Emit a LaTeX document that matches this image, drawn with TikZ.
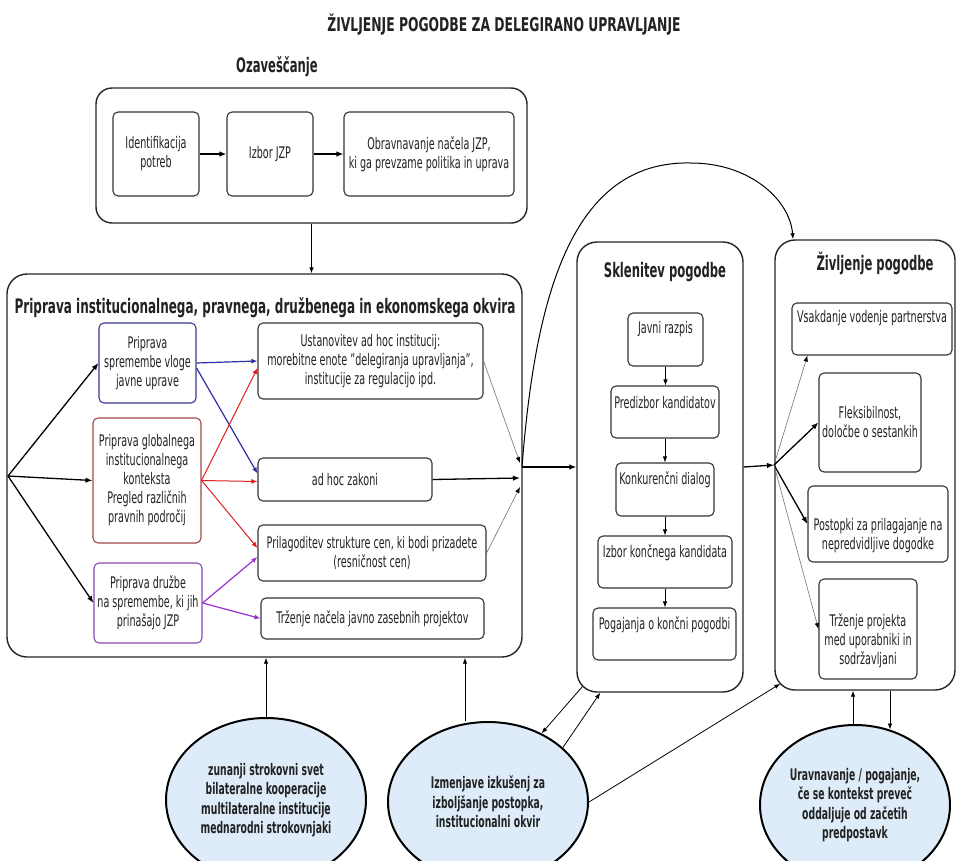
\documentclass[tikz,border=0pt]{standalone}
\usepackage{fontspec}
\setmainfont{DejaVu Sans}[FakeStretch=0.6]
\newfontfamily\hdfont{DejaVu Sans}[FakeStretch=0.58]
\newfontfamily\hdfontw{DejaVu Sans}[FakeStretch=0.6]
\newfontfamily\ttlfont{DejaVu Sans}[FakeStretch=0.65]
\usetikzlibrary{arrows.meta,shapes.geometric}
\definecolor{txtc}{HTML}{222222}
\definecolor{bluebx}{HTML}{3A3A90}
\definecolor{redbx}{HTML}{A04848}
\definecolor{purbx}{HTML}{8A48B0}
\definecolor{bluear}{HTML}{2E2EA8}
\definecolor{redar}{HTML}{E02020}
\definecolor{purar}{HTML}{9B30D0}
\definecolor{ellfill}{HTML}{DDECF8}
\tikzset{
  ttl/.style={font=\ttlfont\bfseries\fontsize{19}{22}\selectfont, text=txtc, inner sep=0},
  hd/.style={font=\hdfont\bfseries\fontsize{20}{24}\selectfont, text=txtc, inner sep=0},
  hdwide/.style={font=\hdfontw\bfseries\fontsize{20}{24}\selectfont, text=txtc, inner sep=0},
  bigbox/.style={draw=black!85, line width=1.4pt, rounded corners=16pt, inner sep=0},
  ibox/.style={draw=black!80, line width=1.1pt, rounded corners=5pt, inner sep=2pt,
    align=center, text=txtc, font=\fontsize{16}{19}\selectfont},
  txt/.style={align=center, text=txtc, font=\fontsize{16}{19}\selectfont, inner sep=0},
  ell/.style={ellipse, draw=black, line width=2pt, fill=ellfill, inner sep=0, align=center,
    text=txtc, font=\hdfont\bfseries\fontsize{16}{19.5}\selectfont},
  arrk/.style={draw=black, line width=1.3pt, -{Latex[length=7pt,width=5.5pt]}},
  arrt/.style={draw=black, line width=0.8pt, -{Latex[length=6pt,width=4.5pt]}},
  arrg/.style={draw=black!55, line width=0.6pt, -{Latex[length=6pt,width=4.5pt,fill=black,color=black]}},
  arrb/.style={draw=bluear, line width=1.2pt, -{Latex[length=6pt,width=5pt]}},
  arrr/.style={draw=redar, line width=1.0pt, -{Latex[length=6pt,width=5pt]}},
  arrp/.style={draw=purar, line width=1.2pt, -{Latex[length=6pt,width=5pt]}},
}
\begin{document}
\begin{tikzpicture}[x=1pt,y=-1pt]
\useasboundingbox (0,0) rectangle (959,860);
\fill[white] (0,0) rectangle (959,860);

% title
\node[ttl] (title) at (504,25) {ŽIVLJENJE POGODBE ZA DELEGIRANO UPRAVLJANJE};

% Ozaveščanje
\node[hd] (ozh) at (277,67) {Ozaveščanje};
\node[bigbox, minimum width=431, minimum height=135] (topbox) at (311.5,155.5) {};
\node[ibox, minimum width=86, minimum height=84] (ident) at (156,154) {Identifikacija\\potreb};
\node[ibox, minimum width=86, minimum height=84] (izbor) at (270,154) {Izbor JZP};
\node[ibox, minimum width=170, minimum height=84] (obrav) at (429,154) {Obravnavanje načela JZP,\\ki ga prevzame politika in uprava};
\draw[arrk] (ident) -- (izbor);
\draw[arrk] (izbor) -- (obrav);

% Priprava box
\node[bigbox, rounded corners=20pt, minimum width=515, minimum height=383] (prep) at (264.5,465.5) {};
\node[hdwide] (preph) at (265,308) {Priprava institucionalnega, pravnega, družbenega in ekonomskega okvira};
\draw[arrt] (topbox.south) -- (topbox.south |- prep.north);

\node[ibox, draw=bluebx, minimum width=97, minimum height=80] (blue) at (147.5,363) {Priprava\\spremembe vloge\\javne uprave};
\node[ibox, draw=redbx, minimum width=108, minimum height=125] (red) at (147,480.5) {Priprava globalnega\\institucionalnega\\konteksta\\Pregled različnih\\pravnih področij};
\node[ibox, draw=purbx, minimum width=108, minimum height=80] (pur) at (148,603) {Priprava družbe\\na spremembe, ki jih\\prinašajo JZP};

\node[ibox, minimum width=225, minimum height=76] (ustan) at (370.5,361) {Ustanovitev ad hoc institucij:\\morebitne enote "delegiranja upravljanja",\\institucije za regulacijo ipd.};
\node[ibox, minimum width=174, minimum height=43] (adhoc) at (345,479.5) {ad hoc zakoni};
\node[ibox, minimum width=228, minimum height=56] (prilag) at (372,553) {Prilagoditev strukture cen, ki bodi prizadete\\(resničnost cen)};
\node[ibox, minimum width=223, minimum height=41] (trzn) at (372.5,618.5) {Trženje načela javno zasebnih projektov};

\coordinate (fan) at (8,476);
\draw[arrk] (fan) -- (blue.west);
\draw[arrk] (fan) -- (red.west);
\draw[arrk] (fan) -- (pur.west);

\draw[arrb] (blue.east) -- (ustan.west);
\draw[arrb] ([yshift=-5pt]blue.east) -- ([yshift=6pt]adhoc.west);
\draw[arrr] (red.east) -- ([yshift=-7pt]ustan.west);
\draw[arrr] (red.east) -- ([yshift=-2pt]adhoc.west);
\draw[arrr] (red.east) -- ([yshift=5pt]prilag.west);
\draw[arrp] (pur.east) -- ([yshift=-4pt]prilag.west);
\draw[arrp] (pur.east) -- (trzn.west);

\coordinate (c1) at (520,463);
\coordinate (c2) at (520,478);
\coordinate (c3) at (520,487);
\coordinate (cv) at (522,467);
\draw[arrg] (ustan.east) -- (c1);
\draw[arrk] (adhoc.east) -- (c2);
\draw[arrg] (prilag.east) -- (c3);

% Sklenitev
\node[bigbox, rounded corners=20pt, minimum width=166, minimum height=450] (skl) at (660,467) {};
\node[hd] (sklh) at (665,272) {Sklenitev pogodbe};
\node[ibox, minimum width=75, minimum height=53] (jr) at (665.5,339.5) {};
\node[txt] (jrt) at ([yshift=-17pt]jr.north) {Javni razpis};
\node[ibox, minimum width=108, minimum height=52] (pk) at (665,412) {};
\node[txt] (pkt) at ([yshift=-17pt]pk.north) {Predizbor kandidatov};
\node[ibox, minimum width=98, minimum height=53] (kd) at (665,489.5) {};
\node[txt] (kdt) at ([yshift=-17pt]kd.north) {Konkurenčni dialog};
\node[ibox, minimum width=134, minimum height=52] (ik) at (665,562) {};
\node[txt] (ikt) at ([yshift=-17pt]ik.north) {Izbor končnega kandidata};
\node[ibox, minimum width=143, minimum height=52] (pp) at (664.5,634) {};
\node[txt] (ppt) at ([yshift=-17pt]pp.north) {Pogajanja o končni pogodbi};
\draw[arrt] (jr.south) -- (jr.south |- pk.north);
\draw[arrt] (pk.south) -- (pk.south |- kd.north);
\draw[arrt] (kd.south) -- (kd.south |- ik.north);
\draw[arrt] (ik.south) -- (ik.south |- pp.north);

\draw[arrk] (cv) -- (cv -| skl.west);

% Življenje
\node[bigbox, rounded corners=20pt, minimum width=180, minimum height=450] (life) at (865,465) {};
\node[hd] (lifeh) at (875,263) {Življenje pogodbe};
\node[ibox, minimum width=160, minimum height=52] (vsak) at (872,329) {};
\node[txt] (vsakt) at ([yshift=-16pt]vsak.north) {Vsakdanje vodenje partnerstva};
\node[ibox, minimum width=102, minimum height=99] (flex) at (870,422.5) {Fleksibilnost,\\določbe o sestankih};
\node[ibox, minimum width=140, minimum height=76] (post) at (878,524) {};
\node[txt] (postt) at ([yshift=-12pt]post.center) {Postopki za prilagajanje na\\nepredvidljive dogodke};
\node[ibox, minimum width=98, minimum height=100] (trzp) at (868,629) {};
\node[txt] (trzpt) at ([yshift=-12pt]trzp.center) {Trženje projekta\\med uporabniki in\\sodržavljani};

\coordinate (lifearr) at ([xshift=-72pt]life.north);
\draw[line width=1pt, -{Latex[length=6pt,width=4.5pt]}] (cv) .. controls (535,300) and (570,160) .. (691,163)
   .. controls (750,163) and (790,200) .. (lifearr);

\coordinate (fan2) at (774,465);
\draw[arrk] (skl.east) -- (fan2);
\draw[arrg] (fan2) -- ([xshift=16pt]vsak.south west);
\draw[arrk] (fan2) -- (flex.west);
\draw[arrk] (fan2) -- (post.west);
\draw[arrg] (fan2) -- (trzp.west);

% ellipses
\node[ell, minimum width=200, minimum height=164] (e1) at (266,800) {zunanji strokovni svet\\bilateralne kooperacije\\multilateralne institucije\\mednarodni strokovnjaki};
\node[ell, minimum width=200, minimum height=160] (e2) at (488,802) {Izmenjave izkušenj za\\izboljšanje postopka,\\institucionalni okvir};
\node[ell, minimum width=190, minimum height=160] (e3) at (855,805) {Uravnavanje / pogajanje,\\če se kontekst preveč\\oddaljuje od začetih\\predpostavk};

\draw[arrt] (e1.north) -- (e1.north |- prep.south);
\draw[arrt] ([xshift=-23pt]e2.north) -- ([xshift=-23pt]e2.north |- prep.south);
\draw[arrt] ([xshift=6pt,yshift=6pt]skl.south west) -- (e2.52);
\draw[arrt] (e2.36) -- ([xshift=24pt]skl.south west);
\draw[arrt] (e2.east) -- ([xshift=6pt,yshift=7pt]life.south west);
\draw[arrt] ([xshift=-2pt]e3.north) -- ([xshift=-2pt]e3.north |- life.south);
\draw[arrt] ([xshift=35pt]e3.north |- life.south) -- ([xshift=35pt,yshift=-5.5pt]e3.north);
\end{tikzpicture}
\end{document}
